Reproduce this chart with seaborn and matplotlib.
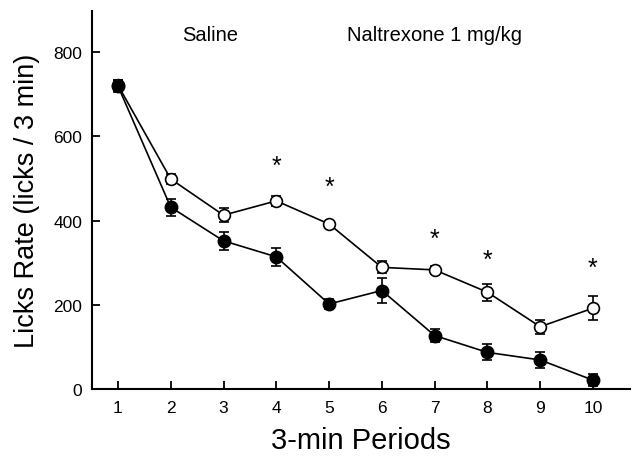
import matplotlib
matplotlib.use("Agg")
import matplotlib.pyplot as plt
import seaborn as sns
import pandas as pd
import numpy as np

periods = [1, 2, 3, 4, 5, 6, 7, 8, 9, 10]
saline_mean = [720, 432, 352, 314, 202, 234, 127, 87, 69, 21]
saline_sem = [15, 20, 21, 22, 12, 29, 15, 19, 19, 15]
naltrexone_mean = [722, 499, 413, 447, 392, 289, 283, 230, 148, 192]
naltrexone_sem = [12, 12, 17, 12, 8, 14, 10, 20, 17, 29]
star_periods = [4, 5, 7, 8, 10]
star_heights = [530, 480, 357, 307, 288]

sns.set_theme(style="ticks")
plt.rcParams['font.family'] = ['Liberation Sans', 'DejaVu Sans']
plt.rcParams['text.color'] = 'black'
plt.rcParams['axes.labelcolor'] = 'black'

fig = plt.figure(figsize=(6.35, 4.64), dpi=100)
ax = fig.add_axes([0.145, 0.1595, 0.847, 0.8145])

df = pd.DataFrame({
    "period": periods * 2,
    "rate": naltrexone_mean + saline_mean,
    "group": ["Naltrexone"] * 10 + ["Saline"] * 10,
})

# open circles (naltrexone) first, then filled (saline)
ax.errorbar(periods, naltrexone_mean, yerr=naltrexone_sem, fmt='none',
            ecolor='black', elinewidth=1.2, capsize=3.5, capthick=1.2, zorder=2)
sns.lineplot(data=df[df.group == "Naltrexone"], x="period", y="rate", ax=ax,
             color='black', linewidth=1.2, marker='o', markersize=8.5,
             markerfacecolor='white', markeredgecolor='black', markeredgewidth=1.2,
             zorder=3, legend=False)
ax.errorbar(periods, saline_mean, yerr=saline_sem, fmt='none',
            ecolor='black', elinewidth=1.2, capsize=3.5, capthick=1.2, zorder=4)
sns.lineplot(data=df[df.group == "Saline"], x="period", y="rate", ax=ax,
             color='black', linewidth=1.2, marker='o', markersize=9,
             markerfacecolor='black', markeredgecolor='black', markeredgewidth=1,
             zorder=5, legend=False)

for p, h in zip(star_periods, star_heights):
    ax.text(p, h, "*", ha='center', va='center', fontsize=18, color='black')

ax.text(2.74, 843, "Saline", ha='center', va='center', fontsize=14.5, color='black')
ax.text(7.0, 843, "Naltrexone 1 mg/kg", ha='center', va='center', fontsize=14.5, color='black')

ax.set_xlim(0.51, 10.7)
ax.set_ylim(0, 898)
ax.set_xticks(periods)
ax.set_yticks([0, 200, 400, 600, 800])
ax.tick_params(direction='in', length=6, width=1.3, labelsize=12.5, colors='black')
ax.tick_params(axis='x', pad=8)
ax.tick_params(axis='y', pad=7)
for s in ['top', 'right']:
    ax.spines[s].set_visible(False)
for s in ['left', 'bottom']:
    ax.spines[s].set_linewidth(1.5)
    ax.spines[s].set_color('black')

ax.set_xlabel("3-min Periods", fontsize=21, labelpad=8, color='black')
ax.set_ylabel("Licks Rate (licks / 3 min)", fontsize=19.5, labelpad=10, color='black')

fig.savefig("out.png", dpi=100)
